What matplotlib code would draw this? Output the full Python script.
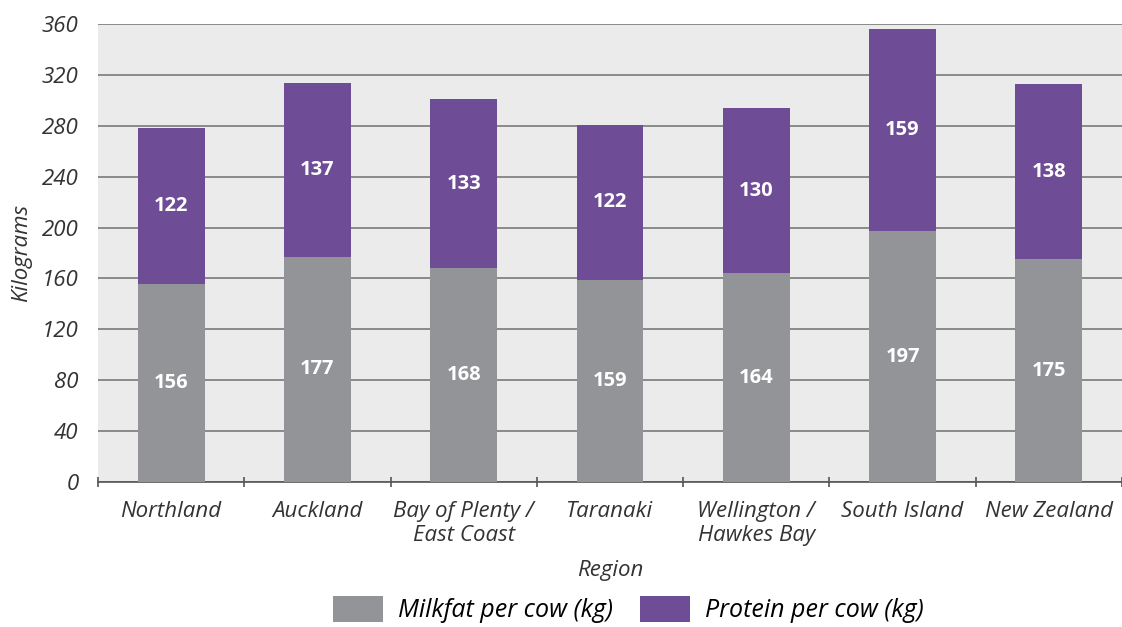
import matplotlib.pyplot as plt
import numpy as np

regions = ["Northland", "Auckland", "Bay of Plenty /\nEast Coast", "Taranaki",
           "Wellington /\nHawkes Bay", "South Island", "New Zealand"]
milkfat = [156, 177, 168, 159, 164, 197, 175]
protein = [122, 137, 133, 122, 130, 159, 138]

plt.rcParams['font.family'] = ['Open Sans', 'DejaVu Sans']

grey = "#939498"
purple = "#6e4c96"

fig = plt.figure(figsize=(11.22, 6.27), dpi=100)
ax = fig.add_axes([0.0873, 0.2313, 0.9127, 0.7304])
ax.set_facecolor("#ebebeb")

x = np.arange(len(regions))
w = 0.457
b1 = ax.bar(x, milkfat, w, color=grey, label="Milkfat per cow (kg)", zorder=3)
b2 = ax.bar(x, protein, w, bottom=milkfat, color=purple, label="Protein per cow (kg)", zorder=3)

for i in range(len(regions)):
    ax.text(x[i], milkfat[i] / 2, str(milkfat[i]), ha="center", va="center",
            color="white", fontsize=14.5, fontweight="bold", zorder=4)
    ax.text(x[i], milkfat[i] + protein[i] / 2, str(protein[i]), ha="center", va="center",
            color="white", fontsize=14.5, fontweight="bold", zorder=4)

ax.set_ylim(0, 360)
ax.set_xlim(-0.5, len(regions) - 0.5)
ax.set_yticks(range(0, 361, 40))
ax.yaxis.grid(True, color="#7a7a7a", linewidth=1.2, zorder=1)
ax.set_axisbelow(True)
for s in ["top", "right", "left"]:
    ax.spines[s].set_visible(False)
ax.spines["bottom"].set_color("#555555")
ax.spines["bottom"].set_linewidth(1.2)
ax.tick_params(axis="y", length=0, pad=14, labelsize=16, labelcolor="#333333")

# category ticks sit at the slot edges, labels in the middle
ax.set_xticks(np.arange(len(regions) + 1) - 0.5)
ax.set_xticklabels([])
ax.set_xticks(x, minor=True)
ax.set_xticklabels(regions, minor=True, fontsize=16, style="italic", color="#333333",
                   linespacing=1.15)
ax.tick_params(axis="x", which="major", length=7, width=1.2, color="#555555", direction="inout")
ax.tick_params(axis="x", which="minor", length=0, pad=14)
for lab in ax.get_yticklabels():
    lab.set_style("italic")

ax.set_xlabel("Region", fontsize=16, style="italic", color="#333333", labelpad=10)
ax.set_ylabel("Kilograms", fontsize=16, style="italic", color="#333333", labelpad=7)

fig.legend(handles=[b1, b2], loc="lower center", bbox_to_anchor=(0.56, -0.022), ncol=2,
           frameon=False, prop={"style": "italic", "size": 18},
           handlelength=2.0, handleheight=1.2, handletextpad=0.6, columnspacing=1.1,
           borderpad=0.2)

fig.savefig("out.png", dpi=100)
